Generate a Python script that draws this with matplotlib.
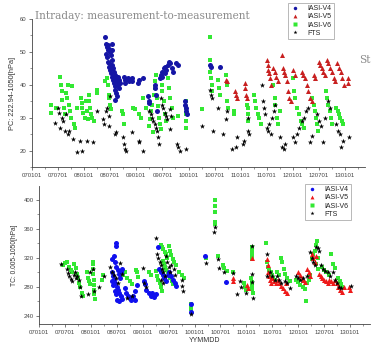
import matplotlib
matplotlib.use("Agg")
import matplotlib.pyplot as plt
import numpy as np
from matplotlib.ticker import MultipleLocator

plt.rcParams['font.family'] = ['Liberation Sans', 'DejaVu Sans']

# x axis: months since 2007-01-01 (070101)
tick_months = [0, 6, 12, 18, 24, 30, 36, 42, 48, 54, 60, 66, 72]
tick_labels = ['070101', '070701', '080101', '080701', '090101', '090701', '100101',
               '100701', '110101', '110701', '120101', '120701', '130101']

# ---- upper panel: PC 222.94-1050 hPa, (month, value)
pc_v4 = [(16.9, 54.5), (17, 52.5), (17.2, 51.5), (17.4, 50.5), (17.1, 49.5), (17.3, 48.5), (17.5, 52),
         (17.7, 51), (17.9, 50), (18.1, 49), (18.3, 47.5), (17.6, 46.5), (17.8, 45.5), (18, 44.5),
         (18.2, 43.5), (18.4, 42.5), (18.6, 41.5), (18.8, 40.5), (19, 39.5), (19.2, 38.5), (19.4, 37.5),
         (19.6, 36.5), (19.1, 35.5), (18.5, 46), (18.7, 45), (18.9, 44), (19.1, 43), (19.3, 42),
         (19.5, 41), (19.7, 40), (19.9, 39), (18.3, 50.5), (18.5, 52.5), (17.4, 47), (19.8, 42.5),
         (20, 41.5), (20.2, 40.5), (21.2, 42.5), (21.3, 41.5), (21.5, 40.5), (22, 42), (22.2, 41),
         (23, 42), (23, 41), (24.4, 40.5), (24.6, 41.5), (25.5, 42), (26.6, 36.5), (26.8, 35),
         (27, 34.5), (28.2, 40), (28.4, 39), (28.6, 37), (28.8, 32), (29.4, 42), (29.7, 43), (30, 44),
         (30.3, 45), (30.6, 45.5), (30.9, 44.5), (31.2, 46), (31.5, 47), (31.8, 46.5), (32.1, 45),
         (32.4, 44), (29.9, 42.5), (30.5, 43.5), (33.2, 46.5), (33.5, 46), (35.2, 35), (35.3, 34),
         (35.4, 33), (35.5, 32), (35.6, 31), (41, 46), (41.2, 45.5), (43.2, 45.5)]

pc_v5 = [(44.7, 41.5), (44.8, 41), (46.7, 38), (47, 37), (47.2, 36), (49, 40.5), (49.1, 39), (49.2, 37),
         (49.4, 36), (54, 47.5), (54.2, 46), (54.4, 44.5), (54.6, 43.5), (54.8, 42), (55, 40), (55.4, 45),
         (55.8, 44), (56.2, 42.5), (56.6, 41), (57.5, 49), (57.8, 45), (58, 44), (58.3, 43), (58.6, 41),
         (58.9, 38), (59.2, 36), (59.5, 35), (60, 44.5), (60.4, 43), (62, 44), (62.4, 43), (62.8, 42),
         (63.2, 40), (63.6, 38), (64, 36), (64.4, 35), (64.8, 43), (65.2, 42), (66, 47), (66.3, 46),
         (66.6, 45), (67, 44), (67.4, 43), (67.8, 47.5), (68.2, 46.5), (68.6, 45), (69, 44), (69.4, 42),
         (69.8, 41), (70.2, 46.5), (70.6, 45), (71, 44), (71.4, 42), (71.8, 40), (72.7, 42), (72.8, 40.5)]

pc_v6 = [(4.3, 34), (4.3, 31.5), (5.5, 33), (6.5, 42.5), (6.6, 40), (6.8, 38), (7, 35.5), (7.3, 33),
         (7.5, 31), (7.8, 37.5), (8, 36), (8.3, 40), (8.5, 34), (8.8, 32), (9, 30), (9.3, 39.5),
         (9.6, 28), (9.8, 27), (10.3, 33), (11.3, 36), (11.5, 34.5), (11.6, 33), (11.8, 31.5), (12.2, 30),
         (12.4, 35), (12.6, 32), (12.8, 29.5), (13, 37), (13.2, 35), (13.3, 33), (13.5, 31), (13.8, 30),
         (14.2, 29), (14.9, 38.5), (14.9, 37.5), (16.8, 41), (17.2, 42), (17.4, 40), (17.6, 37),
         (17.8, 36), (18, 34), (18.2, 32.5), (20.8, 32), (21, 31), (21.2, 28), (23.3, 33), (23.8, 32.5),
         (24.5, 31), (25, 30), (25.6, 36), (26.2, 33), (27, 27.5), (27.2, 29.5), (27.4, 32), (27.6, 34),
         (27.8, 25.5), (28, 37), (28.2, 39), (28.4, 41), (28.6, 43), (28.8, 36), (29, 33.5), (29.2, 30),
         (29.4, 28), (29.6, 26.5), (29.8, 40), (30, 38), (30.3, 35), (30.6, 31), (30.9, 29), (31.2, 42),
         (31.5, 39), (31.8, 36), (32.1, 33), (32.4, 30), (33.6, 30.5), (35.5, 35), (35.5, 33),
         (35.5, 31), (35.5, 29), (35.5, 27), (39, 32.5), (40.9, 54.5), (40.9, 47.5), (41, 44),
         (41.1, 42), (41.3, 40), (41.5, 38), (42.9, 41.5), (43, 39), (43.2, 37), (44.7, 43), (44.8, 40),
         (44.9, 35), (45, 33), (46.5, 31), (46.5, 32), (49.5, 34), (49.6, 33), (49.7, 31), (49.8, 29),
         (51, 37), (51.3, 35), (51.6, 33), (52, 31), (52.3, 30), (52.6, 28), (55.5, 40), (55.8, 36),
         (56, 34), (56.3, 30), (56.6, 28), (57, 32), (60, 42), (60.3, 38), (60.6, 36), (61, 33),
         (61.4, 31), (61.8, 29), (62.2, 28), (62.6, 27), (64.5, 36), (64.8, 34), (65, 32), (65.3, 30),
         (65.6, 28), (65.9, 26), (67.6, 38), (67.9, 36), (68.2, 34), (68.5, 32), (68.8, 30), (69, 28),
         (70, 33), (70.3, 32), (70.6, 31), (70.9, 30), (71.2, 29), (71.5, 28)]

pc_fts = [(5.3, 28.5), (6, 33), (6.3, 31.5), (6.4, 27), (6.8, 30), (7.2, 29), (7.6, 26), (7.8, 31),
          (8.3, 25), (8.6, 26), (9.5, 23.5), (10.3, 19.5), (11, 23), (11.6, 20), (12.7, 23), (14, 22.5),
          (14.9, 32), (16.3, 29.5), (16.5, 28), (17, 32), (17.3, 33), (17.6, 30.5), (17.8, 27.5),
          (18, 36.5), (19, 25), (19.3, 25.5), (21, 24), (21.2, 22), (21.4, 20.5), (21.6, 20), (23, 25.5),
          (24.5, 23), (24.7, 22.5), (25.6, 20), (27, 32), (27.3, 31), (27.6, 30), (27.9, 29), (28.2, 28),
          (28.5, 27), (28.8, 26), (29, 24), (29.3, 22), (29.6, 36), (29.9, 34), (30.2, 33), (30.5, 31.5),
          (30.8, 30.5), (31.1, 29.5), (31.7, 32.5), (31.9, 30.5), (31.8, 26.5), (33.3, 22), (33.5, 21),
          (34, 20), (35.5, 20.5), (39, 27.5), (41, 38.5), (41.2, 37), (41.4, 36), (41.7, 26), (42.8, 33),
          (44, 25), (44.7, 29.5), (44.8, 32), (46, 20.5), (47, 21), (47.2, 24), (48.6, 22), (48.8, 23),
          (49.7, 30), (49.8, 26), (49.9, 25), (53, 40), (53.2, 35), (53.4, 33), (53.6, 31), (54, 27),
          (54.3, 26), (54.6, 28), (55, 25), (55.3, 30), (55.6, 32), (55.9, 34), (57, 24), (57.5, 21),
          (57.9, 20.5), (58.3, 22), (60, 24), (60.5, 22.5), (61, 25), (61.5, 27), (62, 29), (62.5, 30),
          (63, 32), (63.5, 33), (64, 22.5), (64.3, 24.5), (65.5, 31), (66, 29), (66.5, 27.5), (67, 22.5),
          (67.5, 30), (68, 35), (68.5, 33), (70, 28), (70.4, 26), (70.8, 25), (71.1, 21), (71.6, 23),
          (73, 24)]

# ---- lower panel: TC 0.005-1050 hPa, (month, value)
tc_v4 = [(17.8, 340), (17.9, 337), (17, 318), (17.3, 322), (17.6, 314), (17.9, 308), (18.2, 304),
         (18.5, 298), (16.8, 300), (17.1, 295), (17.4, 290), (17.7, 285), (18, 280), (18.3, 276),
         (18.6, 272), (18.9, 268), (19.2, 264), (17.5, 275), (17.8, 270), (18.1, 262), (18.4, 260),
         (16.9, 288), (17.2, 283), (18.7, 292), (19, 300), (19.3, 305), (19.8, 278), (20.2, 272),
         (20.6, 268), (21, 265), (21.4, 262), (21.8, 268), (22.2, 275), (22.6, 283), (22.2, 262),
         (24.2, 288), (24.5, 284), (24.8, 276), (25.5, 272), (26, 268), (26.5, 266), (27, 270),
         (26.2, 272), (27.6, 335), (27.8, 305), (28.2, 300), (28.6, 296), (29, 292), (29.4, 288),
         (29.8, 296), (30.2, 300), (30.6, 295), (31, 290), (31.4, 285), (31.8, 282), (35.2, 257),
         (35.2, 245), (38.4, 323), (43.3, 287)]

tc_v5 = [(44.9, 292), (45, 288), (48.2, 283), (48.4, 278), (49.4, 320), (52.7, 318), (52.9, 310),
         (53.1, 300), (53.3, 295), (53.5, 290), (53.7, 286), (54, 292), (54.4, 288), (54.8, 285),
         (55.2, 290), (55.6, 286), (56, 282), (56.5, 278), (57, 275), (57.5, 272), (57.2, 285), (60, 300),
         (60.4, 296), (60.8, 293), (61.2, 290), (61.6, 287), (62, 305), (62.4, 300), (62.8, 295),
         (63.2, 325), (63.5, 320), (63.8, 315), (64.2, 322), (64.8, 298), (65.2, 295), (65.6, 292),
         (66, 290), (66.4, 288), (66.8, 286), (67.2, 290), (67.6, 288), (68, 285), (68.5, 290),
         (68.9, 285), (69.3, 280), (69.7, 276), (70.1, 273), (70.5, 280), (71.8, 280), (72, 276)]

tc_v6 = [(5.5, 310), (6, 313), (6.5, 314), (7, 308), (7.3, 304), (7.6, 300), (8.2, 312), (8.5, 306),
         (8.8, 298), (9, 292), (9.3, 286), (9.6, 280), (9.9, 272), (10.2, 268), (11.2, 300), (11.4, 292),
         (11.6, 288), (11.8, 284), (12.4, 315), (12.5, 311), (12.6, 305), (12.6, 298), (12.7, 290),
         (12.7, 283), (12.8, 276), (12.8, 270), (12.9, 264), (14.6, 290), (14.9, 296), (19.5, 296),
         (20, 300), (20.3, 293), (21, 288), (21.5, 284), (22.5, 303), (22.7, 300), (23, 294),
         (25.5, 300), (26, 296), (27, 302), (27.3, 295), (27.6, 290), (27.9, 285), (28.2, 280),
         (28.5, 275), (28.2, 338), (28.5, 335), (28.8, 332), (29.1, 328), (29.4, 325), (29.7, 320),
         (28.6, 316), (28.9, 312), (29.2, 308), (29.5, 304), (29.8, 300), (30.1, 296), (30.4, 292),
         (30.7, 288), (31, 284), (30, 336), (30.3, 330), (30.6, 324), (31, 318), (31.3, 315), (31.6, 310),
         (32.5, 300), (33, 296), (33.5, 292), (35.2, 257), (35.2, 253), (35.2, 250), (38.6, 320),
         (40.8, 400), (40.8, 392), (40.8, 383), (40.7, 370), (40.7, 366), (41.4, 323), (42.5, 310),
         (42.9, 306), (43.5, 302), (44.8, 300), (47.5, 285), (47.7, 280), (47.9, 276), (49, 292),
         (49.2, 287), (49.3, 282), (49.4, 277), (49.5, 272), (49.2, 335), (49.3, 330), (49.3, 326),
         (49.4, 322), (49.4, 318), (52.5, 340), (52.8, 315), (53, 308), (53.3, 304), (53.6, 300),
         (53.9, 296), (54.2, 292), (54.5, 290), (55, 300), (55.5, 297), (56, 320), (56.3, 315),
         (56.6, 305), (57, 298), (57.5, 293), (58, 288), (59.5, 290), (60, 287), (60.5, 283), (61, 280),
         (61.5, 277), (62, 285), (61.8, 260), (62.5, 290), (62.8, 296), (63.2, 318), (63.5, 325),
         (63.8, 330), (64, 338), (64.3, 343), (64.5, 320), (64.2, 312), (64.6, 305), (65.5, 308),
         (66, 304), (66.5, 300), (67, 296), (67.5, 325), (68, 312), (68.5, 306), (69.3, 293),
         (69.6, 288), (69.9, 284), (70.2, 280)]

tc_fts = [(5.2, 311), (6.4, 305), (6.7, 299), (7, 295), (7.3, 291), (7.6, 288), (8, 296), (8.3, 300),
          (8.6, 292), (8.9, 295), (9.2, 290), (9.5, 280), (9.8, 268), (11.4, 270), (11.8, 300),
          (12.6, 305), (12.8, 275), (14, 280), (15, 295), (16.4, 307), (17, 300), (17.4, 296),
          (17.8, 292), (18.2, 285), (18.8, 313), (19.2, 298), (20.3, 265), (21.5, 267), (24, 306),
          (24.2, 285), (24.8, 280), (27, 348), (27.3, 325), (27.6, 320), (27.9, 315), (28.2, 310),
          (28.5, 305), (28.8, 300), (29.1, 295), (28.3, 290), (28.6, 285), (29.4, 322), (29.7, 315),
          (30, 308), (30.3, 300), (30.6, 310), (31.2, 305), (31.5, 297), (33, 290), (33.2, 282),
          (33.4, 275), (35.2, 243), (38.6, 313), (40.7, 362), (40.6, 355), (41.5, 318), (41.7, 306),
          (42.8, 300), (45, 299), (45.8, 270), (46.5, 288), (46.7, 280), (48, 272), (49.2, 337),
          (49.3, 298), (49.4, 287), (49.5, 265), (52.7, 326), (52.8, 295), (53.5, 300), (54, 295),
          (54.5, 290), (55, 295), (55.5, 290), (56, 285), (57, 288), (57.5, 285), (58, 278), (59.5, 295),
          (60, 292), (60.5, 290), (61, 292), (62, 295), (62.8, 328), (63.2, 320), (63.5, 315),
          (63.9, 310), (64.2, 335), (64.5, 333), (64.8, 330), (65.2, 310), (65.8, 305), (66.3, 302),
          (66.8, 300), (67.3, 295), (68, 300), (68.5, 290), (69, 285), (69.5, 280), (70, 278), (72.2, 282)]

W, H = 371, 343
fig = plt.figure(figsize=(W / 100, H / 100), dpi=100)


def px_axes(left, top, right, bottom):
    return fig.add_axes([left / W, 1 - bottom / H, (right - left) / W, (bottom - top) / H])


def style_axes(ax):
    for s in ('top', 'right'):
        ax.spines[s].set_visible(False)
    for s in ('left', 'bottom'):
        ax.spines[s].set_linewidth(0.6)
        ax.spines[s].set_color('#444444')
    ax.set_xticks(tick_months)
    ax.set_xticklabels(tick_labels)
    ax.xaxis.set_minor_locator(MultipleLocator(3))
    ax.tick_params(which='major', direction='out', length=2.5, width=0.5, labelsize=4.3,
                   colors='#444444', pad=1.5)
    ax.tick_params(which='minor', direction='out', length=1.5, width=0.4, colors='#444444')
    ax.set_xlim(0, 76.6)


def plot_series(ax, v4, v5, v6, fts, blue, red):
    v4, v5, v6, fts = (np.array(d).T for d in (v4, v5, v6, fts))
    ax.scatter(v6[0], v6[1], marker='s', s=10, color='#33e833', linewidths=0, zorder=2)
    ax.scatter(v4[0], v4[1], marker='o', s=13, color=blue, linewidths=0, zorder=3)
    ax.scatter(v5[0], v5[1], marker='^', s=13, color=red, linewidths=0, zorder=3)
    ax.scatter(fts[0], fts[1], marker='*', s=16, color='black', linewidths=0, zorder=4)


def add_legend(ax, left, top, blue, red):
    h = [plt.Line2D([], [], ls='none', marker='o', ms=2.5, mfc=blue, mec='none', label='IASI-V4'),
         plt.Line2D([], [], ls='none', marker='^', ms=2.8, mfc=red, mec='none', label='IASI-V5'),
         plt.Line2D([], [], ls='none', marker='s', ms=2.5, mfc='#33e833', mec='none', label='IASI-V6'),
         plt.Line2D([], [], ls='none', marker='*', ms=3, mfc='black', mec='none', label='FTS')]
    leg = ax.legend(handles=h, loc='upper left', bbox_to_anchor=(left / W, 1 - top / H),
                    bbox_transform=fig.transFigure, fontsize=5, frameon=True, fancybox=False,
                    handlelength=1.2, handletextpad=1.2, labelspacing=0.15, borderpad=0.35,
                    borderaxespad=0)
    leg.get_frame().set_edgecolor('#999999')
    leg.get_frame().set_linewidth(0.6)
    for t in leg.get_texts():
        t.set_color('#222222')


# upper panel
ax1 = px_axes(32, 19, 365, 167)
style_axes(ax1)
ax1.set_ylim(15, 60)
ax1.set_yticks([20, 30, 40, 50, 60])
ax1.yaxis.set_minor_locator(MultipleLocator(5))
plot_series(ax1, pc_v4, pc_v5, pc_v6, pc_fts, '#1515a5', '#c82020')
ax1.set_ylabel('PC: 222.94-1050[hPa]', fontsize=5.3, color='#333333', labelpad=3)
add_legend(ax1, 288, 3, '#1515a5', '#c82020')

# lower panel
ax2 = px_axes(39, 186, 370, 324)
style_axes(ax2)
ax2.set_ylim(229, 419)
ax2.set_yticks([240, 280, 320, 360, 400])
ax2.yaxis.set_minor_locator(MultipleLocator(20))
plot_series(ax2, tc_v4, tc_v5, tc_v6, tc_fts, '#1010ee', '#ee1a1a')
ax2.set_ylabel('TC: 0.005-1050[hPa]', fontsize=4.8, color='#333333', labelpad=4)
ax2.set_xlabel('YYMMDD', fontsize=5, color='#333333', labelpad=2)
add_legend(ax2, 305, 184, '#1010ee', '#ee1a1a')

fig.text(142 / W, 1 - 16 / H, 'Intraday: measurement-to-measurement', ha='center', va='center',
         fontsize=7.6, color='#8c8c8c', family='DejaVu Serif')
fig.text(359 / W, 1 - 60 / H, 'St', ha='left', va='center', fontsize=7.6, color='#8c8c8c',
         family='DejaVu Serif')

fig.savefig('out.png', dpi=100)
